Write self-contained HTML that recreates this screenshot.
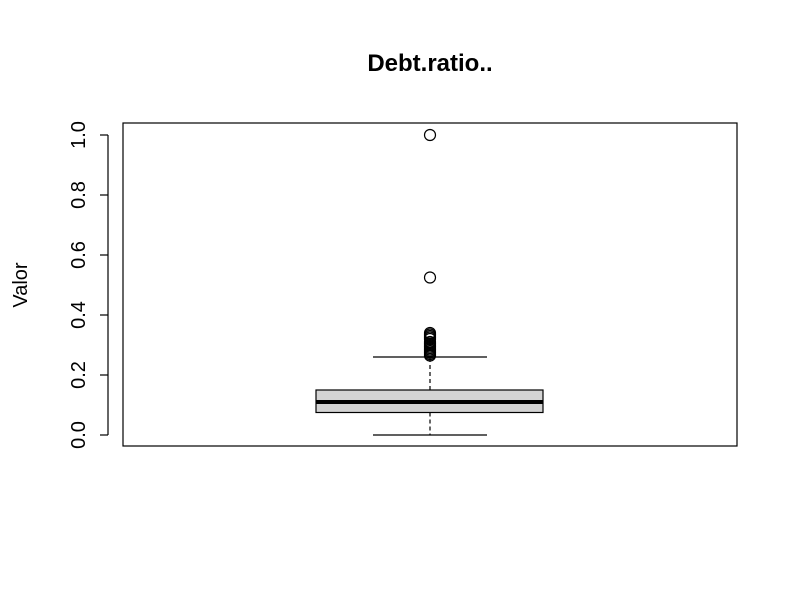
<!DOCTYPE html>
<html><head><style>body{margin:0;background:#fff}svg{font-family:"Liberation Sans",sans-serif}</style></head>
<body>
<svg id="c" width="800" height="600">
<rect width="800" height="600" fill="#fff"/>
<text x="430" y="71" text-anchor="middle" font-size="24" font-weight="bold">Debt.ratio..</text>
<text transform="translate(27,285) rotate(-90)" text-anchor="middle" font-size="20">Valor</text>
<rect x="123" y="123" width="614" height="323" fill="none" stroke="#000" stroke-width="1.2"/>
<g id="axis"></g>
<g id="box"></g>
</svg>
<script>
const yTicks=[0,0.2,0.4,0.6,0.8,1.0];
const tickLabels=["0.0","0.2","0.4","0.6","0.8","1.0"];
const stats=[0,0.075,0.11,0.15,0.26];
const outliers=[1.0,0.525,0.34,0.335,0.33,0.325,0.32,0.31,0.305,0.3,0.295,0.29,0.285,0.28,0.275,0.27,0.265];
const y=v=>435-v*300;
const cx=430, ns="http://www.w3.org/2000/svg";
function mk(t,a,p){const e=document.createElementNS(ns,t);for(const k in a)e.setAttribute(k,a[k]);p.appendChild(e);return e;}
const ax=document.getElementById('axis');
mk('line',{x1:108,x2:108,y1:y(0),y2:y(1),stroke:'#000','stroke-width':1.2},ax);
yTicks.forEach((v,i)=>{
 const t=mk('line',{x1:100,x2:108,y1:y(v),y2:y(v),stroke:'#000','stroke-width':1.2},ax);
 
 
 const tx=mk('text',{transform:`translate(85,${y(v)}) rotate(-90)`,'text-anchor':'middle','font-size':20},ax);
 tx.textContent=tickLabels[i];
 
 
});
const b=document.getElementById('box');
const [lo,q1,med,q3,hi]=stats;
mk('line',{x1:cx,x2:cx,y1:y(q1),y2:y(lo),stroke:'#000','stroke-width':1.2,'stroke-dasharray':'4,3'},b);
mk('line',{x1:cx,x2:cx,y1:y(q3),y2:y(hi),stroke:'#000','stroke-width':1.2,'stroke-dasharray':'4,3'},b);
mk('line',{x1:373,x2:487,y1:y(lo),y2:y(lo),stroke:'#000','stroke-width':1.2},b);
mk('line',{x1:373,x2:487,y1:y(hi),y2:y(hi),stroke:'#000','stroke-width':1.2},b);
const r=mk('rect',{x:316,width:227,y:y(q3),height:y(q1)-y(q3),fill:'#d3d3d3',stroke:'#000','stroke-width':1.2},b);


const m=mk('line',{x1:316,x2:543,y1:y(med),y2:y(med),stroke:'#000','stroke-width':4},b);


outliers.forEach(v=>{
 const c=mk('circle',{cx:cx,cy:y(v),r:5.5,fill:'none',stroke:'#000','stroke-width':1.2},b);
 
 
});
</script>
</body></html>
